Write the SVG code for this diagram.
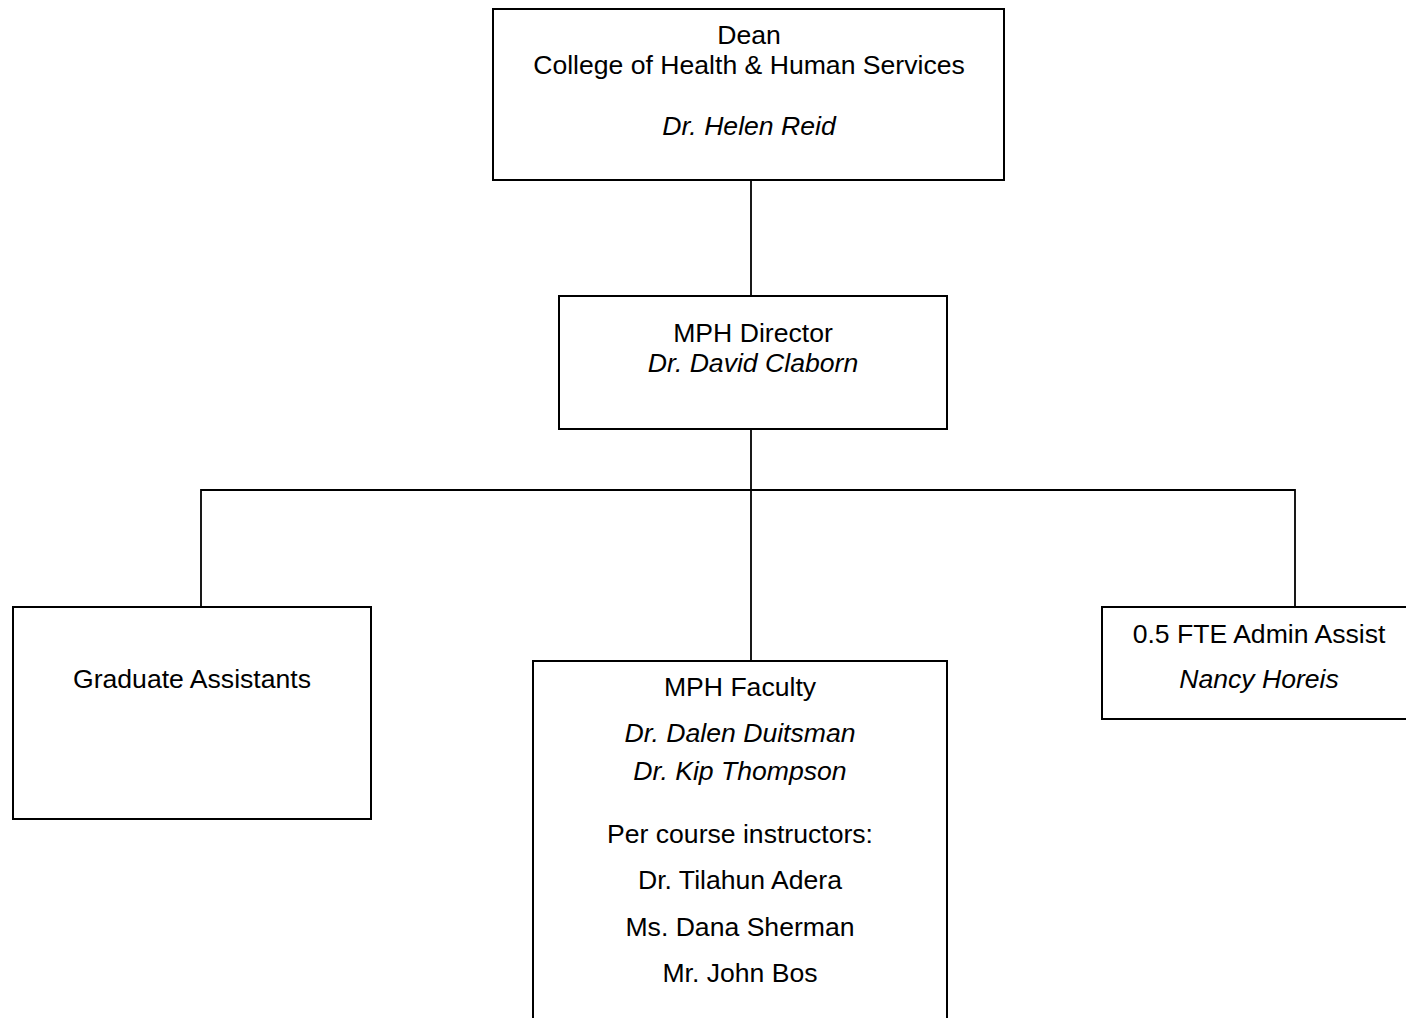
<svg xmlns="http://www.w3.org/2000/svg" width="1406" height="1018" viewBox="0 0 1406 1018">
<style>
.box{fill:#fff;stroke:#000;stroke-width:2}
.t{font-family:"Liberation Sans",Arial,sans-serif;font-size:26.6px;fill:#000;text-anchor:middle}
.i{font-style:italic}
.c{fill:none;stroke:#000;stroke-width:1.8}
</style>
<rect width="1406" height="1018" fill="#fff"/>
<g id="connectors">
<line class="c" x1="751" y1="180" x2="751" y2="296"/>
<line class="c" x1="751" y1="429" x2="751" y2="661"/>
<polyline class="c" points="201,607 201,490 1295,490 1295,607"/>
</g>
<g id="dean">
<rect class="box" x="493" y="9" width="511" height="171"/>
<text class="t" x="749" y="44">Dean</text>
<text class="t" x="749" y="74">College of Health &amp; Human Services</text>
<text class="t i" x="749" y="135">Dr. Helen Reid</text>
</g>
<g id="director">
<rect class="box" x="559" y="296" width="388" height="133"/>
<text class="t" x="753" y="342">MPH Director</text>
<text class="t i" x="753" y="372">Dr. David Claborn</text>
</g>
<g id="graduate">
<rect class="box" x="13" y="607" width="358" height="212"/>
<text class="t" x="192" y="688">Graduate Assistants</text>
</g>
<g id="faculty">
<rect class="box" x="533" y="661" width="414" height="370"/>
<text class="t" x="740" y="696">MPH Faculty</text>
<text class="t i" x="740" y="742">Dr. Dalen Duitsman</text>
<text class="t i" x="740" y="780">Dr. Kip Thompson</text>
<text class="t" x="740" y="843">Per course instructors:</text>
<text class="t" x="740" y="889">Dr. Tilahun Adera</text>
<text class="t" x="740" y="936">Ms. Dana Sherman</text>
<text class="t" x="740" y="982">Mr. John Bos</text>
</g>
<g id="admin">
<rect class="box" x="1102" y="607" width="320" height="112"/>
<text class="t" x="1259" y="643">0.5 FTE Admin Assist</text>
<text class="t i" x="1259" y="688">Nancy Horeis</text>
</g>
</svg>
